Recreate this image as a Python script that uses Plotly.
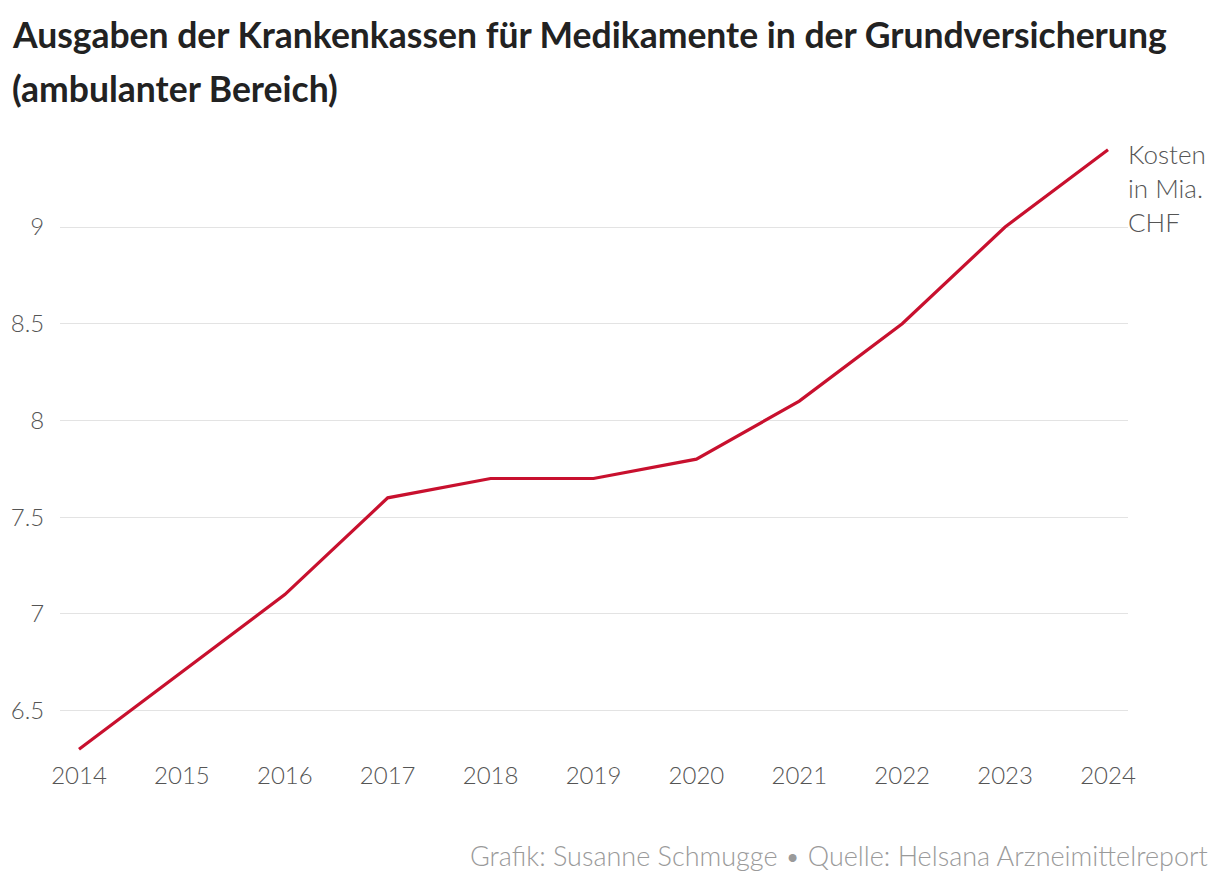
import plotly.graph_objects as go

years = [2014, 2015, 2016, 2017, 2018, 2019, 2020, 2021, 2022, 2023, 2024]
kosten = [6.3, 6.7, 7.1, 7.6, 7.7, 7.7, 7.8, 8.1, 8.5, 9.0, 9.4]
y_ticks = [6.5, 7, 7.5, 8, 8.5, 9]
y_tick_labels = ["6.5", "7", "7.5", "8", "8.5", "9"]

title_line1 = "Ausgaben der Krankenkassen für Medikamente in der Grundversicherung"
title_line2 = "(ambulanter Bereich)"
unit_label = "Kosten<br>in Mia.<br>CHF"
source = "Grafik: Susanne Schmugge • Quelle: Helsana Arzneimittelreport"

FONT = "Lato"
OFF = 8  # page body margin
W, H = 1220 - 2 * OFF, 886 - 2 * OFF
# screen coordinates from the reference
s_left, s_right = 60, 1128
y_lo, y_hi = 6.25, 9.45
s_top = 140
s_bottom = 759
left, right = s_left - OFF, s_right - OFF
top, bottom = s_top - OFF, s_bottom - OFF
pw, ph = right - left, bottom - top


def px(sx):
    return (sx - OFF - left) / pw


def py(sy):
    return (bottom - (sy - OFF)) / ph


fig = go.Figure()
fig.add_trace(go.Scatter(
    x=years, y=kosten, mode="lines",
    line=dict(color="#c8102e", width=3.2),
    hoverinfo="x+y", showlegend=False,
))

fig.update_layout(
    width=W, height=H,
    margin=dict(l=left, r=W - right, t=top, b=H - bottom, autoexpand=False),
    paper_bgcolor="white", plot_bgcolor="white",
    font=dict(family=FONT, color="#555555", size=22),
    xaxis=dict(
        range=[2014 - 19 / 102.9, 2024 + 20 / 102.9],
        tickvals=years, ticktext=[str(y) for y in years],
        showgrid=False, zeroline=False, showline=False,
        ticks="", 
        tickfont=dict(size=24, color="#555555", weight=300),
    ),
    yaxis=dict(
        range=[y_lo, y_hi],
        tickvals=y_ticks, ticktext=y_tick_labels,
        showgrid=True, gridcolor="#e3e3e3", gridwidth=1.2,
        zeroline=False, showline=False,
        ticks="outside", ticklen=10, tickcolor="rgba(0,0,0,0)",
        tickfont=dict(size=24, color="#555555", weight=300),
    ),
    annotations=[
        dict(text=f"<b>{title_line1}</b>", xref="paper", yref="paper",
             x=px(10), y=py(35),
             xanchor="left", yanchor="middle", showarrow=False,
             font=dict(family=FONT, size=35.5, color="#222222")),
        dict(text=f"<b>{title_line2}</b>", xref="paper", yref="paper",
             x=px(10), y=py(88),
             xanchor="left", yanchor="middle", showarrow=False,
             font=dict(family=FONT, size=35.5, color="#222222")),
        dict(text=unit_label, xref="paper", yref="paper",
             x=1.0, y=py(136), xanchor="left", yanchor="top", align="left",
             showarrow=False, xshift=-2,
             font=dict(family=FONT, size=26, color="#555555", weight=300)),
        dict(text=source, xref="paper", yref="paper",
             x=px(1210), y=py(855),
             xanchor="right", yanchor="middle", showarrow=False,
             font=dict(family=FONT, size=27, color="#9a9a9a", weight=300)),
    ],
)

fig.write_html("out.html")
